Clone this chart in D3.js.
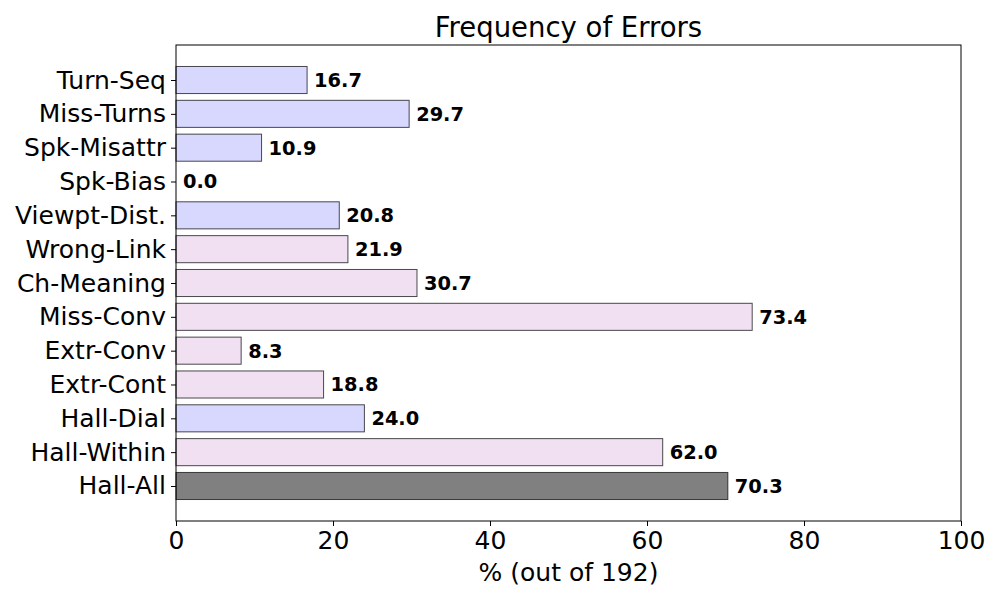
<!DOCTYPE html>
<html>
<head>
<meta charset="utf-8">
<script src="https://cdn.jsdelivr.net/npm/d3@7"></script>
<style>
  body { margin: 0; background: #fff; }
  text { font-family: "DejaVu Sans", sans-serif; }
</style>
</head>
<body>
<svg id="chart" width="1000" height="600"></svg>
<script>
const categories = ["Turn-Seq", "Miss-Turns", "Spk-Misattr", "Spk-Bias", "Viewpt-Dist.", "Wrong-Link", "Ch-Meaning", "Miss-Conv", "Extr-Conv", "Extr-Cont", "Hall-Dial", "Hall-Within", "Hall-All"];
const values = [16.7, 29.7, 10.9, 0.0, 20.8, 21.9, 30.7, 73.4, 8.3, 18.8, 24.0, 62.0, 70.3];
const groups = ["speaker", "speaker", "speaker", "speaker", "speaker", "content", "content", "content", "content", "content", "speaker", "content", "overall"];
const xTicks = [0, 20, 40, 60, 80, 100];
const title = "Frequency of Errors";
const xLabel = "% (out of 192)";

const palette = { speaker: "#d8d8ff", content: "#f0e0f2", overall: "#808080" };

const svg = d3.select("#chart");
const mLeft = 176, mRight = 961, mTop = 45, mBottom = 521;

const x = d3.scaleLinear().domain([0, 100]).range([mLeft, mRight]);
const y = d3.scaleLinear().domain([-1.035, categories.length - 1 + 1.035]).range([mTop, mBottom]);
const step = y(1) - y(0);
const barH = step * 0.8;

const rows = values.map((v, i) => ({ v, i }));

// bars
svg.append("g").selectAll("rect")
  .data(rows.filter(d => d.v > 0))
  .join("rect")
  .attr("x", x(0))
  .attr("y", d => y(d.i) - barH / 2)
  .attr("width", d => x(d.v) - x(0))
  .attr("height", barH)
  .attr("fill", d => palette[groups[d.i]])
  .attr("stroke", "#000")
  .attr("stroke-opacity", 0.7)
  .attr("stroke-width", 1);

// value labels
svg.append("g").selectAll("text")
  .data(rows)
  .join("text")
  .attr("x", d => x(d.v) + 7)
  .attr("y", d => y(d.i))
  .attr("dy", "0.36em")
  .attr("font-size", "19.4px")
  .attr("font-weight", "bold")
  .attr("fill", "#000")
  .text(d => d.v.toFixed(1));

// frame
svg.append("rect")
  .attr("x", mLeft).attr("y", mTop)
  .attr("width", mRight - mLeft).attr("height", mBottom - mTop)
  .attr("fill", "none").attr("stroke", "#000").attr("stroke-width", 1);

// x axis
const xAxis = svg.append("g")
  .attr("transform", `translate(0,${mBottom})`)
  .call(d3.axisBottom(x).tickValues(xTicks).tickFormat(d3.format("d")).tickSize(5).tickPadding(5));
xAxis.select(".domain").remove();
xAxis.selectAll("text").attr("font-size", "25px").attr("font-family", "DejaVu Sans").attr("fill", "#000");
xAxis.selectAll("line").attr("stroke", "#000");

// y axis
const yAxis = svg.append("g")
  .attr("transform", `translate(${mLeft},0)`)
  .call(d3.axisLeft(y).tickValues(d3.range(categories.length)).tickFormat(i => categories[i]).tickSize(5).tickPadding(5));
yAxis.select(".domain").remove();
yAxis.selectAll("text").attr("font-size", "25px").attr("font-family", "DejaVu Sans").attr("fill", "#000");
yAxis.selectAll("line").attr("stroke", "#000");

// title
svg.append("text")
  .attr("x", (mLeft + mRight) / 2).attr("y", 37)
  .attr("text-anchor", "middle")
  .attr("font-size", "27.5px")
  .text(title);

// x label
svg.append("text")
  .attr("x", (mLeft + mRight) / 2).attr("y", 581)
  .attr("text-anchor", "middle")
  .attr("font-size", "25px")
  .text(xLabel);
</script>
</body>
</html>
